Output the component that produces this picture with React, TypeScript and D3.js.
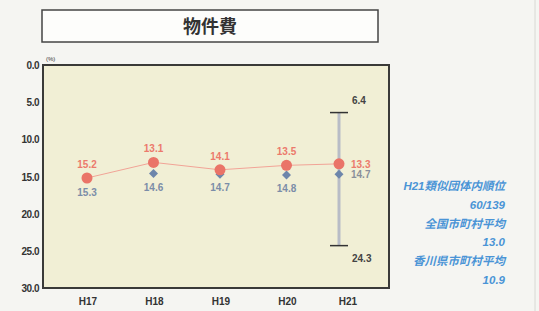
import { useRef, useEffect } from 'react'
import * as d3 from 'd3'

const years = ['H17', 'H18', 'H19', 'H20', 'H21']
const ownValues = [15.2, 13.1, 14.1, 13.5, 13.3]
const groupAvg = [15.3, 14.6, 14.7, 14.8, 14.7]
const rangeH21 = { min: 6.4, max: 24.3 }
const yTicks = [0, 5, 10, 15, 20, 25, 30]
const sideNotes = ['H21類似団体内順位', '60/139', '全国市町村平均', '13.0', '香川県市町村平均', '10.9']

const W = 539
const H = 311
const plot = { left: 43, right: 389, top: 65, bottom: 288 }

export default function App() {
  const svgRef = useRef<SVGSVGElement>(null)

  useEffect(() => {
    const svg = d3.select(svgRef.current)
    svg.selectAll('*').remove()
    const font = 'Arial, "Liberation Sans", "Noto Sans CJK JP", sans-serif'

    svg.append('rect').attr('width', W).attr('height', H).attr('fill', '#f5f5f2')

    // title box
    svg.append('rect')
      .attr('x', 42).attr('y', 10).attr('width', 336).attr('height', 32)
      .attr('fill', '#fdfdfb').attr('stroke', '#444').attr('stroke-width', 1.5)
    svg.append('text')
      .attr('x', 210).attr('y', 33).attr('text-anchor', 'middle')
      .attr('font-family', font).attr('font-weight', 'bold').attr('font-size', 18)
      .attr('fill', '#333').text('物件費')

    const y = d3.scaleLinear().domain([0, 30]).range([plot.top, plot.bottom])
    const x = d3.scalePoint().domain(years).range([87, 353])
    // H21 sits a little closer to H20 in the original
    const px = (d: string) => (x(d) as number) - (d === 'H21' ? 14 : 0)

    svg.append('rect')
      .attr('x', plot.left).attr('y', plot.top)
      .attr('width', plot.right - plot.left).attr('height', plot.bottom - plot.top)
      .attr('fill', '#f1efd5').attr('stroke', '#3a3a38').attr('stroke-width', 2)

    svg.selectAll('.ytick')
      .data(yTicks)
      .join('text')
      .attr('x', 39).attr('y', d => y(d) + 4)
      .attr('text-anchor', 'end')
      .attr('font-family', font).attr('font-weight', 'bold').attr('font-size', 10)
      .attr('fill', '#333').attr('letter-spacing', -0.5)
      .text(d => d.toFixed(1))

    svg.append('text')
      .attr('x', 46).attr('y', 61)
      .attr('font-family', font).attr('font-size', 6).attr('fill', '#333').text('(%)')

    svg.selectAll('.xlab')
      .data(years)
      .join('text')
      .attr('x', d => (x(d) as number) + (d === 'H21' ? -5 : 1)).attr('y', 305)
      .attr('text-anchor', 'middle')
      .attr('font-family', font).attr('font-weight', 'bold').attr('font-size', 10)
      .attr('fill', '#333').text(d => d)

    // H21 min-max range
    const ex = px('H21')
    svg.append('line')
      .attr('x1', ex).attr('x2', ex).attr('y1', y(rangeH21.min)).attr('y2', y(rangeH21.max))
      .attr('stroke', '#b8bcc6').attr('stroke-width', 3)
    for (const v of [rangeH21.min, rangeH21.max]) {
      svg.append('line')
        .attr('x1', ex - 9).attr('x2', ex + 9).attr('y1', y(v)).attr('y2', y(v))
        .attr('stroke', '#333').attr('stroke-width', 1.5)
    }
    svg.append('text')
      .attr('x', ex + 13).attr('y', y(rangeH21.min) - 9)
      .attr('font-family', font).attr('font-weight', 'bold').attr('font-size', 10)
      .attr('fill', '#444').text(rangeH21.min.toFixed(1))
    svg.append('text')
      .attr('x', ex + 13).attr('y', y(rangeH21.max) + 16)
      .attr('font-family', font).attr('font-weight', 'bold').attr('font-size', 10)
      .attr('fill', '#444').text(rangeH21.max.toFixed(1))

    // own line
    const line = d3.line<number>().x((_, i) => px(years[i])).y(d => y(d))
    svg.append('path')
      .attr('d', line(ownValues))
      .attr('fill', 'none').attr('stroke', '#f2a497').attr('stroke-width', 1)

    // diamonds (similar group average)
    svg.selectAll('.dia')
      .data(groupAvg)
      .join('path')
      .attr('d', d3.symbol(d3.symbolSquare, 40))
      .attr('transform', (d, i) => `translate(${px(years[i])},${y(d)}) rotate(45)`)
      .attr('fill', '#6d86ab')

    svg.selectAll('.dot')
      .data(ownValues)
      .join('circle')
      .attr('cx', (_, i) => px(years[i])).attr('cy', d => y(d))
      .attr('r', 5.5).attr('fill', '#ea7468')

    svg.selectAll('.ownlab')
      .data(ownValues)
      .join('text')
      .attr('x', (_, i) => px(years[i]) + (i === 4 ? 12 : 0))
      .attr('y', (d, i) => (i === 4 ? y(d) + 4 : y(d) - 10))
      .attr('text-anchor', (_, i) => (i === 4 ? 'start' : 'middle'))
      .attr('font-family', font).attr('font-weight', 'bold').attr('font-size', 10)
      .attr('fill', '#ec7a6c').text(d => d.toFixed(1))

    svg.selectAll('.grplab')
      .data(groupAvg)
      .join('text')
      .attr('x', (_, i) => px(years[i]) + (i === 4 ? 12 : 0))
      .attr('y', (d, i) => (i === 4 ? y(d) + 4 : y(d) + 17))
      .attr('text-anchor', (_, i) => (i === 4 ? 'start' : 'middle'))
      .attr('font-family', font).attr('font-weight', 'bold').attr('font-size', 10)
      .attr('fill', (_, i) => (i === 4 ? '#8a8f9a' : '#7b8da8')).text(d => d.toFixed(1))

    svg.selectAll('.note')
      .data(sideNotes)
      .join('text')
      .attr('x', 505).attr('y', (_, i) => 190 + i * 18.8)
      .attr('text-anchor', 'end')
      .attr('font-family', font).attr('font-style', 'italic').attr('font-weight', 'bold')
      .attr('font-size', 11.5).attr('fill', '#4a94d6').text(d => d)

    svg.append('line')
      .attr('x1', 535).attr('x2', 535).attr('y1', 0).attr('y2', H)
      .attr('stroke', '#d8d8d4').attr('stroke-width', 1)
  }, [])

  return (
    <svg
      ref={svgRef}
      width={W}
      height={H}
      style={{ position: 'absolute', left: 0, top: 0, display: 'block' }}
    />
  )
}
